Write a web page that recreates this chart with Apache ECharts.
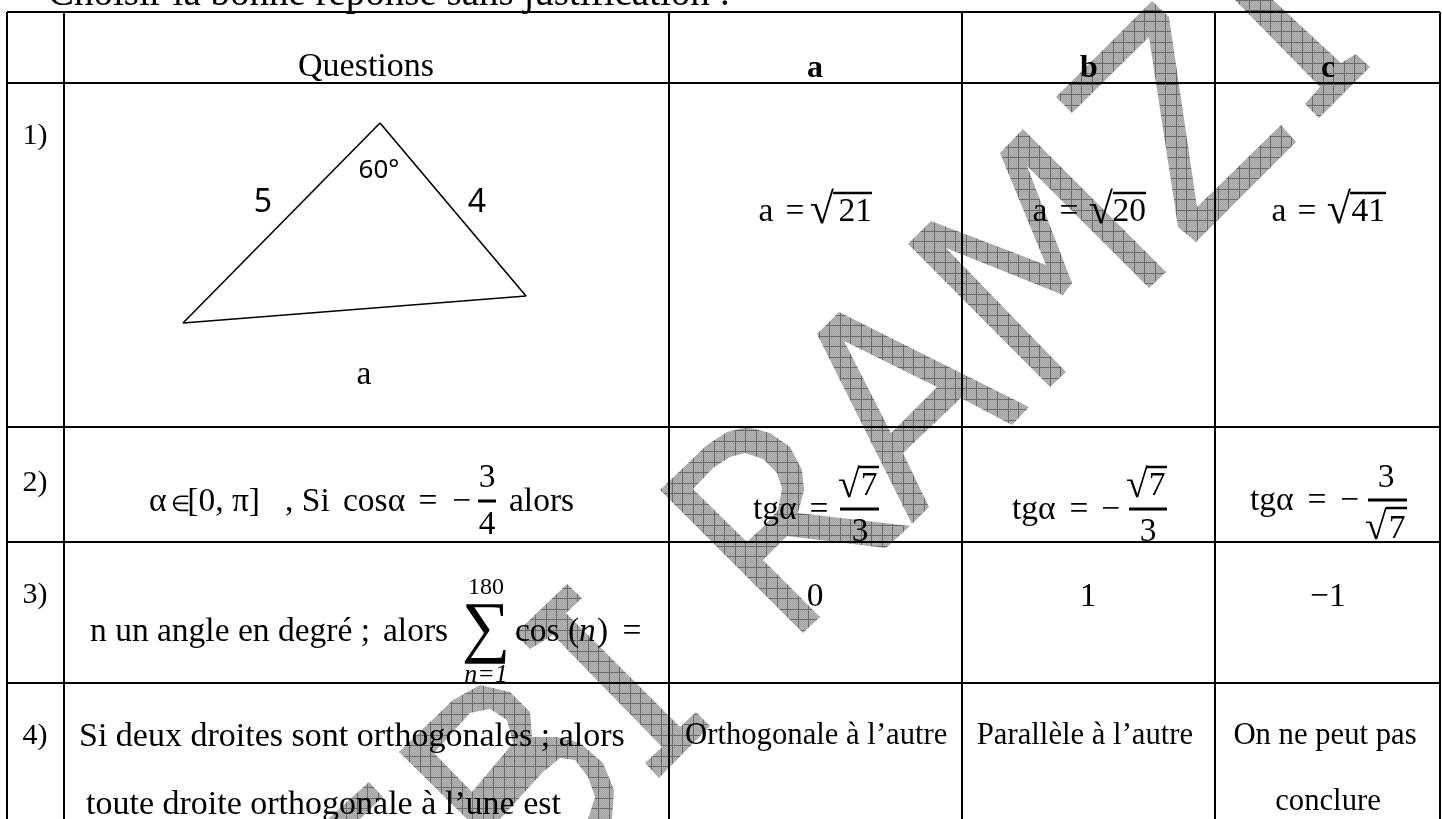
<!DOCTYPE html>
<html>
<head>
<meta charset="utf-8">
<style>
  html, body { margin: 0; background: #fff; }
  #chart { width: 1442px; height: 819px; }
</style>
<script src="https://cdn.jsdelivr.net/npm/echarts@6/dist/echarts.min.js"></script>
</head>
<body>
<div id="chart"></div>
<script>
// table rules, in page units (the axes run 0-1442 and 0-819)
const columnEdges = [7, 64, 669, 962, 1215, 1440]
const rowEdges = [12, 83, 427, 542, 683]
const triangle = [[380, 123], [526, 296], [183, 323], [380, 123]]

// [x, baseline, text, align]
const titleTexts = [[48, 4, 'Choisir la bonne réponse sans justification :', 'left']]
const headerTexts = [[366, 75, 'Questions', 'center']]
const headerBoldTexts = [[815, 76, 'a', 'center'], [1089, 76, 'b', 'center'], [1328, 76, 'c', 'center']]
const numberTexts = [[35, 143, '1)', 'center'], [35, 490, '2)', 'center'], [35, 602, '3)', 'center'], [35, 743, '4)', 'center']]
const figureTexts = [[263, 212, '5', 'center'], [477, 212, '4', 'center']]
const angleTexts = [[379, 178, '60°', 'center']]
const bodyTexts = [
  [364, 383, 'a', 'center'],
  [766, 220, 'a', 'center'], [795, 220, '=', 'center'], [872, 220, '21', 'right'],
  [1040, 220, 'a', 'center'], [1069, 220, '=', 'center'], [1146, 220, '20', 'right'],
  [1279, 220, 'a', 'center'], [1307, 220, '=', 'center'], [1385, 220, '41', 'right'],
  [149, 510, 'α', 'left'], [260, 510, '[0, π]', 'right'], [285, 510, ', Si', 'left'],
  [343, 510, 'cosα', 'left'], [428, 510, '=', 'center'], [462, 510, '−', 'center'], [509, 510, 'alors', 'left'],
  [487, 486, '3', 'center'], [487, 533, '4', 'center'],
  [753, 518, 'tgα', 'left'], [819, 518, '=', 'center'], [869, 494, '7', 'center'], [860, 540, '3', 'center'],
  [1012, 518, 'tgα', 'left'], [1079, 518, '=', 'center'], [1111, 518, '−', 'center'], [1157, 494, '7', 'center'], [1148, 540, '3', 'center'],
  [1250, 509, 'tgα', 'left'], [1317, 509, '=', 'center'], [1350, 509, '−', 'center'], [1386, 486, '3', 'center'], [1397, 537, '7', 'center'],
  [815, 605, '0', 'center'], [1088, 605, '1', 'center'], [1328, 605, '−1', 'center'],
  [90, 640, 'n un angle en degré ;', 'left'], [383, 640, 'alors', 'left'], [515, 640, 'cos', 'left'],
  [568, 640, '(', 'left'], [597, 640, ')', 'left'], [632, 640, '=', 'center']
]
const sentenceTexts = [
  [79, 745, 'Si deux droites sont orthogonales ; alors', 'left'],
  [86, 813, 'toute droite orthogonale à l’une est', 'left']
]
const answerTexts = [
  [685, 743, 'Orthogonale à l’autre', 'left'], [1085, 743, 'Parallèle à l’autre', 'center'],
  [1325, 743, 'On ne peut pas', 'center'], [1328, 809, 'conclure', 'center']
]
const memberTexts = [[180, 510, '∈', 'center']]
const rootTexts = [[834, 222, '√', 'right'], [1113, 222, '√', 'right'], [1351, 222, '√', 'right']]
const smallRootTexts = [[860, 496, '√', 'right'], [1148, 496, '√', 'right'], [1387, 538, '√', 'right']]
const limitTexts = [[486, 593, '180', 'center']]
const limitItalicTexts = [[486, 681, 'n=1', 'center']]
const italicTexts = [[579, 640, 'n', 'left']]
const sumTexts = [[486, 647, '∑', 'center']]

// square root overlines and fraction bars [x1, y1, x2, y2]
const overlines = [
  [833, 193, 872, 193], [1113, 193, 1146, 193], [1350, 193, 1386, 193],
  [859, 467, 879, 467], [1147, 467, 1167, 467], [1386, 508, 1407, 508]
]
const fractionBars = [
  [478, 501, 496, 501], [840, 509, 879, 509], [1129, 509, 1167, 509], [1368, 500, 1407, 500]
]

// watermark letters
const letterZ = [[1056, 97], [1152, 1], [1169, 17], [1197, 207], [1281, 125], [1296, 142], [1196, 242], [1178, 227], [1149, 37], [1072, 113]]
const letterI = [[1235, 0], [1273, 0], [1341, 63], [1356, 54], [1370, 67], [1319, 118], [1305, 104], [1320, 87]]
const letterM = [[931, 221], [1046, 265], [1000, 153], [1023, 129], [1166, 272], [1149, 288], [1027, 166], [1072, 283], [1063, 295], [946, 248], [1066, 372], [1050, 387], [908, 244]]
const letterA = [[839, 312], [1029, 407], [1012, 425], [961, 398], [903, 453], [929, 507], [912, 524], [817, 334]]
const letterR = [[660, 490], [707, 445], [727, 432], [747, 427], [770, 433], [790, 447], [802, 470], [804, 490], [798, 513], [910, 526], [886, 548], [787, 536], [763, 560], [820, 617], [803, 633]]
const letterT = [[567, 584], [582, 598], [566, 613], [680, 727], [696, 712], [710, 726], [659, 778], [645, 763], [662, 747], [553, 635], [530, 649], [515, 634]]
const letterB = [[399, 752], [453, 700], [480, 685], [510, 692], [530, 712], [532, 737], [557, 737], [580, 743], [603, 763], [614, 790], [612, 819], [467, 819]]
const letterEnd = [[369, 782], [383, 797], [360, 819], [328, 819]]
const letters = [letterZ, letterI, letterM, letterA, letterR, letterT, letterB, letterEnd]
const holeA = [[844, 341], [937, 387], [891, 433]]
const holeR = [[693, 489], [713, 468], [730, 457], [745, 453], [763, 459], [777, 473], [782, 488], [778, 510], [765, 525], [747, 542]]
const holeB1 = [[434, 753], [470, 713], [490, 709], [507, 720], [513, 743], [472, 792]]
const holeB2 = [[500, 819], [543, 772], [560, 758], [575, 760], [588, 777], [595, 797], [588, 819]]
const holes = [holeA, holeR, holeB1, holeB2]

function hatchPattern() {
  let size = 21
  let canvas = document.createElement('canvas')
  canvas.width = size
  canvas.height = size
  let ctx = canvas.getContext('2d')
  for (let x = 0; x < size; x++) {
    for (let y = 0; y < size; y++) {
      ctx.fillStyle = (x + y) % 2 ? '#a0a0a0' : '#b8b8b8'
      ctx.fillRect(x, y, 1, 1)
    }
  }
  ctx.fillStyle = '#6a6a6a'
  ;[0, 10].forEach(p => {
    ctx.fillRect(0, p, size, 1)
    ctx.fillRect(p, 0, 1, size)
  })
  return canvas
}

function polygonSeries(shapes, fill) {
  return {
    type: 'custom',
    coordinateSystem: 'cartesian2d',
    silent: true,
    data: shapes.map((s, i) => [s[0][0], s[0][1], i]),
    renderItem(params, api) {
      let points = shapes[api.value(2)].map(p => api.coord(p))
      return { type: 'polygon', shape: { points }, style: { fill } }
    }
  }
}

function segmentSeries(segments, lineWidth) {
  return {
    type: 'custom',
    coordinateSystem: 'cartesian2d',
    silent: true,
    data: segments,
    renderItem(params, api) {
      let a = api.coord([api.value(0), api.value(1)])
      let b = api.coord([api.value(2), api.value(3)])
      return {
        type: 'line',
        shape: { x1: a[0], y1: a[1], x2: b[0], y2: b[1] },
        style: { stroke: '#000', lineWidth }
      }
    }
  }
}

// zrender sets text from its top edge, so the baseline is moved up by about 3/4 of the font size
function textSeries(items, font) {
  let lift = (font.fontFamily ? 0.77 : 0.73) * font.fontSize
  return {
    type: 'custom',
    coordinateSystem: 'cartesian2d',
    silent: true,
    data: items.map((t, i) => [t[0], t[1], i]),
    renderItem(params, api) {
      let t = items[api.value(2)]
      let p = api.coord([t[0], t[1]])
      return {
        type: 'text',
        style: Object.assign({
          x: p[0], y: p[1] - lift, text: t[2], align: t[3], verticalAlign: 'top',
          fill: '#000', fontFamily: 'Liberation Serif'
        }, font)
      }
    }
  }
}

let rules = []
rowEdges.forEach(y => rules.push([columnEdges[0], y, columnEdges[columnEdges.length - 1], y]))
columnEdges.forEach(x => rules.push([x, rowEdges[0], x, 819]))

let chart = echarts.init(document.getElementById('chart'))
chart.setOption({
  animation: false,
  backgroundColor: '#fff',
  grid: { left: 0, right: 0, top: 0, bottom: 0 },
  xAxis: { type: 'value', min: 0, max: 1442, show: false },
  yAxis: { type: 'value', min: 0, max: 819, inverse: true, show: false },
  series: [
    polygonSeries(letters, { image: hatchPattern(), repeat: 'repeat' }),
    polygonSeries(holes, '#fff'),
    segmentSeries(rules, 2),
    {
      type: 'line',
      silent: true,
      data: triangle,
      symbol: 'none',
      lineStyle: { color: '#000', width: 1.6 }
    },
    segmentSeries(overlines, 2.5),
    segmentSeries(fractionBars, 3),
    textSeries(titleTexts, { fontSize: 39 }),
    textSeries(headerTexts, { fontSize: 34 }),
    textSeries(headerBoldTexts, { fontSize: 32, fontWeight: 'bold' }),
    textSeries(numberTexts, { fontSize: 30 }),
    textSeries(figureTexts, { fontSize: 32, fontFamily: 'Noto Sans' }),
    textSeries(angleTexts, { fontSize: 26, fontFamily: 'Noto Sans' }),
    textSeries(bodyTexts, { fontSize: 33.5 }),
    textSeries(sentenceTexts, { fontSize: 34 }),
    textSeries(answerTexts, { fontSize: 30.7 }),
    textSeries(memberTexts, { fontSize: 22 }),
    textSeries(rootTexts, { fontSize: 44 }),
    textSeries(smallRootTexts, { fontSize: 40 }),
    textSeries(limitTexts, { fontSize: 24 }),
    textSeries(limitItalicTexts, { fontSize: 26, fontStyle: 'italic' }),
    textSeries(italicTexts, { fontSize: 33.5, fontStyle: 'italic' }),
    textSeries(sumTexts, { fontSize: 68 })
  ]
})
</script>
</body>
</html>
